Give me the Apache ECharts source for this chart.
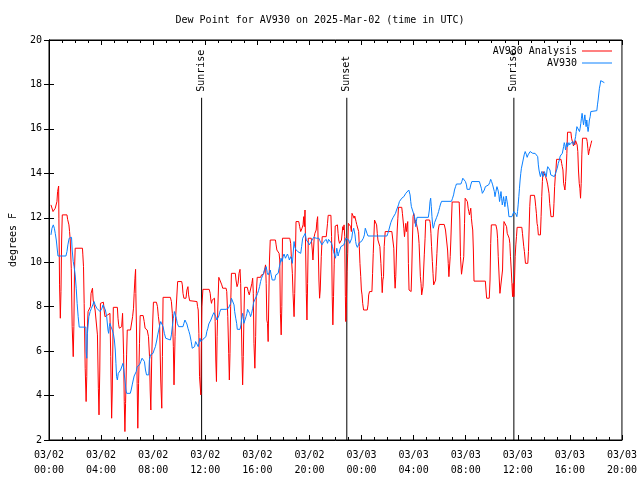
<!DOCTYPE html>
<html><head><meta charset="utf-8">
<script src="https://cdn.jsdelivr.net/npm/echarts@6/dist/echarts.min.js"></script>
<style>html,body{margin:0;padding:0;background:#fff}#c{width:640px;height:480px}</style>
</head><body><div id="c"></div>
<script>
const FONT = 'DejaVu Sans Mono';
const titleText = 'Dew Point for AV930 on 2025-Mar-02 (time in UTC)';
const seriesNames = ['AV930 Analysis', 'AV930'];
const seriesColors = ['#ff0000', '#0a80ff'];
const yAxisName = 'degrees F';
// x values: hours since 03/02 00:00 UTC
const xTickLabels = ['03/02\n00:00','03/02\n04:00','03/02\n08:00','03/02\n12:00','03/02\n16:00','03/02\n20:00',
  '03/03\n00:00','03/03\n04:00','03/03\n08:00','03/03\n12:00','03/03\n16:00','03/03\n20:00'];
const eventHours = [11.72, 22.87, 35.70];
const eventLabels = ['Sunrise', 'Sunset', 'Sunrise'];

const analysisData = [
[0.15,12.58],[0.31,12.28],[0.48,12.43],[0.61,12.73],[0.66,13.18],[0.74,13.43],[0.76,11.98],[0.81,8.98],[0.87,7.48],[0.92,8.68],[0.97,11.0],[1.02,12.13],[1.38,12.13],[1.43,11.93],[1.53,11.68],[1.58,11.38],[1.63,11.0],[1.71,9.73],[1.78,7.1],[1.86,5.75],[1.91,7.1],[1.96,9.65],[2.01,10.63],[2.57,10.63],[2.60,10.33],[2.65,9.8],[2.70,8.15],[2.78,5.23],[2.85,3.73],[2.90,4.85],[2.93,6.8],[3.00,7.78],[3.11,7.85],[3.18,8.0],[3.23,8.6],[3.34,8.83],[3.39,8.3],[3.49,8.23],[3.54,7.85],[3.67,7.93],[3.72,6.73],[3.79,4.33],[3.84,3.13],[3.90,5.15],[3.95,8.15],[4.00,8.2],[4.18,8.2],[4.23,7.85],[4.30,7.55],[4.43,7.48],[4.51,7.63],[4.58,7.55],[4.68,7.7],[4.74,5.75],[4.81,2.98],[4.86,4.25],[4.94,7.97],[5.25,7.97],[5.30,7.48],[5.35,7.18],[5.40,7.03],[5.50,7.03],[5.58,7.1],[5.65,7.7],[5.73,5.83],[5.78,3.73],[5.83,2.38],[5.88,3.65],[5.96,5.83],[6.01,6.95],[6.26,6.95],[6.34,7.03],[6.42,7.55],[6.49,7.93],[6.54,8.6],[6.60,9.28],[6.65,9.68],[6.67,8.6],[6.72,6.95],[6.77,4.55],[6.82,2.53],[6.88,4.55],[6.95,6.35],[7.00,7.6],[7.23,7.6],[7.31,7.33],[7.38,7.03],[7.54,6.95],[7.64,6.65],[7.72,5.75],[7.77,4.25],[7.82,3.35],[7.89,5.75],[7.97,7.4],[8.02,8.2],[8.25,8.2],[8.33,8.0],[8.40,7.55],[8.50,7.1],[8.58,4.7],[8.66,3.43],[8.71,5.75],[8.76,8.42],[9.32,8.42],[9.40,8.23],[9.47,7.7],[9.55,6.2],[9.60,4.48],[9.68,6.65],[9.73,7.55],[9.80,8.3],[9.88,9.13],[10.19,9.13],[10.24,8.98],[10.29,8.6],[10.36,8.38],[10.44,8.45],[10.52,8.38],[10.59,8.75],[10.67,8.9],[10.72,8.53],[10.80,8.27],
[10.85,8.23],[11.36,8.23],[11.41,8.0],[11.46,7.85],[11.51,6.8],[11.56,4.85],[11.61,4.85],[11.66,4.03],[11.69,6.05],[11.74,8.0],[11.82,8.78],[12.30,8.78],[12.38,8.6],[12.43,8.3],[12.48,8.15],[12.53,8.3],[12.61,8.23],[12.66,8.3],[12.71,8.38],[12.76,7.33],[12.81,5.6],[12.86,4.63],[12.91,6.65],[12.96,7.85],[13.04,9.32],[13.19,9.32],[13.27,8.98],[13.34,8.83],[13.60,8.83],[13.65,8.68],[13.73,7.55],[13.80,5.9],[13.85,4.7],[13.90,5.9],[13.95,8.0],[14.01,9.5],[14.31,9.5],[14.36,9.2],[14.44,8.9],[14.52,9.05],[14.59,9.5],[14.67,9.68],[14.72,9.05],[14.77,7.4],[14.82,5.75],[14.87,4.48],[14.92,5.75],[14.97,7.55],[15.02,8.87],[15.23,8.87],[15.30,8.68],[15.38,8.53],[15.51,8.53],[15.58,9.05],[15.64,9.28],[15.69,8.6],[15.74,6.35],[15.81,5.23],[15.87,6.65],[15.92,8.6],[15.99,9.32],[16.25,9.32],[16.32,9.43],[16.40,9.35],[16.48,9.47],[16.55,9.65],[16.63,9.88],[16.68,9.05],[16.73,7.4],[16.78,7.25],[16.83,6.43],[16.88,8.3],[16.93,10.1],[16.99,11.0],[17.39,11.0],[17.44,10.78],[17.50,10.55],[17.60,10.48],[17.67,10.4],[17.72,10.1],[17.77,7.7],[17.83,6.73],[17.88,8.0],[17.93,11.08],[18.49,11.08],[18.56,10.85],[18.61,10.25],[18.69,9.5],[18.74,8.6],[18.82,7.55],[18.87,8.6],[18.92,10.1],[18.97,11.83],[19.18,11.83],[19.25,11.6],[19.33,11.38],[19.43,11.53],[19.51,11.68],[19.56,12.05],[19.61,11.6],[19.66,12.35],[19.71,10.55],[19.76,8.6],[19.81,7.4],[19.86,9.05],[19.91,11.08],[20.14,11.08],[20.22,10.55],[20.27,10.1],[20.37,11.15],[20.42,11.3],[20.52,11.45],[20.57,11.83],[20.63,12.05],[20.68,10.55],[20.73,9.2],[20.78,8.38],[20.83,8.75],[20.91,10.25],[20.98,11.15],[21.29,11.15],[21.34,11.45],[21.39,11.75],[21.44,12.11],[21.65,12.11],[21.70,11.15],[21.75,8.45],[21.80,7.18],[21.85,8.45],[21.90,9.88],[21.98,11.63],
[22.15,11.68],[22.20,11.3],[22.25,11.0],[22.31,10.85],[22.41,10.85],[22.46,11.0],[22.51,11.0],[22.56,11.6],[22.61,11.45],[22.66,11.68],[22.71,11.15],[22.76,8.45],[22.79,7.33],[22.84,8.15],[22.89,9.58],[22.94,10.4],[22.99,11.75],[23.12,11.75],[23.17,11.6],[23.22,11.38],[23.27,12.2],[23.38,12.2],[23.43,11.98],[23.48,12.08],[23.53,12.05],[23.58,11.83],[23.63,11.7],[23.73,11.75],[23.78,11.38],[23.83,10.7],[23.88,9.95],[23.94,9.35],[23.99,8.75],[24.04,8.53],[24.09,8.15],[24.16,7.85],[24.44,7.85],[24.50,8.08],[24.55,8.53],[24.62,8.68],[24.80,8.68],[24.85,9.5],[24.90,10.4],[24.95,11.15],[25.00,11.9],[25.11,11.9],[25.16,11.68],[25.21,11.3],[25.26,11.0],[25.34,11.0],[25.41,10.7],[25.49,9.95],[25.54,9.35],[25.59,8.63],[25.64,9.2],[25.69,9.35],[25.74,10.7],[25.82,11.38],[26.33,11.38],[26.41,11.3],[26.48,10.63],[26.53,9.43],[26.58,8.83],[26.63,9.35],[26.69,10.55],[26.74,11.45],[26.79,11.98],[26.84,12.47],[27.09,12.47],[27.14,12.2],[27.19,11.9],[27.25,11.53],[27.30,11.15],[27.35,11.45],[27.40,11.75],[27.45,11.38],[27.50,11.3],[27.55,11.83],[27.60,9.95],[27.65,8.75],[27.70,8.68],[27.81,8.68],[27.86,9.65],[27.91,11.0],[27.96,12.05],[28.01,12.2],[28.06,12.05],[28.11,11.75],[28.16,11.88],[28.21,11.75],[28.26,11.83],[28.32,11.45],[28.37,11.23],[28.42,10.85],[28.47,10.1],[28.52,9.35],[28.57,9.05],[28.62,8.53],[28.67,8.53],[28.72,8.9],[28.77,9.65],[28.82,10.33],[28.88,11.08],[28.93,11.9],[29.23,11.9],[29.28,11.75],[29.33,11.3],[29.38,10.7],[29.44,10.03],[29.49,9.5],[29.54,8.98],[29.64,8.93],[29.69,9.2],[29.74,9.8],[29.79,10.4],[29.84,11.0],[29.89,11.45],[29.97,11.7],[30.35,11.7],[30.40,11.68],[30.45,11.45],[30.53,11.0],[30.61,10.55],[30.66,9.95],[30.71,9.35],[30.76,9.35],[30.81,10.25],[30.86,11.0],[30.91,11.9],[30.96,12.71],[31.50,12.71],[31.55,11.9],[31.60,10.25],[31.68,9.46],[31.80,9.46],[31.85,10.25],[31.91,11.75],[31.96,12.88],[32.08,12.88],[32.13,12.73],[32.19,12.43],[32.24,12.28],[32.29,12.13],[32.34,12.28],[32.39,12.43],[32.44,11.98],[32.49,11.68],[32.54,11.45],[32.59,10.55],[32.64,9.15],
[33.51,9.15],[33.56,8.75],[33.61,8.38],[33.81,8.38],[33.87,9.2],[33.92,10.85],[33.97,11.68],[34.32,11.68],[34.40,11.45],[34.45,11.08],[34.50,10.25],[34.58,9.2],[34.63,8.6],[34.78,8.6],[34.83,9.65],[34.88,11.0],[34.94,11.83],[35.09,11.83],[35.14,11.6],[35.19,11.3],[35.29,11.26],[35.34,11.08],[35.39,10.85],[35.44,10.25],[35.50,9.65],[35.55,9.05],[35.60,8.45],[35.65,9.05],[35.70,8.45],[35.75,9.2],[35.80,10.25],[35.85,10.78],[35.90,11.15],[35.95,11.57],[36.31,11.57],[36.36,11.3],[36.41,11.0],[36.46,10.7],[36.51,10.48],[36.59,9.95],[36.77,9.95],[36.82,10.48],[36.87,11.45],[36.92,12.5],[36.97,13.01],[37.28,13.01],[37.33,12.8],[37.38,12.5],[37.43,12.2],[37.48,11.75],[37.53,11.6],[37.58,11.23],[37.74,11.23],[37.79,12.05],[37.84,12.95],[37.89,13.63],[37.94,14.08],[38.09,14.08],[38.14,13.85],[38.22,13.7],[38.30,13.48],[38.35,13.4],[38.40,13.1],[38.45,12.65],[38.50,12.35],[38.55,12.05],[38.73,12.05],[38.78,12.65],[38.83,13.4],[38.88,13.85],[38.93,14.15],[38.98,14.63],[39.32,14.63],[39.37,14.45],[39.42,14.3],[39.47,14.15],[39.52,13.55],[39.57,13.48],[39.62,13.25],[39.67,13.63],[39.72,14.15],[39.77,14.9],[39.82,15.85],[40.08,15.85],[40.13,15.58],[40.18,15.65],[40.23,15.35],[40.28,15.23],[40.33,15.43],[40.38,15.28],[40.44,15.47],[40.51,15.47],[40.56,15.28],[40.61,14.98],[40.66,14.15],[40.72,13.55],[40.77,13.33],[40.82,12.88],[40.87,13.55],[40.92,14.83],[40.97,15.58],[41.28,15.58],[41.33,15.43],[41.38,15.13],[41.43,14.83],[41.48,14.98],[41.53,15.13],[41.58,15.23],[41.63,15.35],[41.68,15.47]
];

const stationData = [
[0.15,11.23],[0.23,11.53],[0.33,11.68],[0.41,11.53],[0.48,11.3],[0.56,11.0],[0.64,10.55],[0.69,10.28],[1.30,10.28],[1.38,10.48],[1.45,10.78],[1.55,11.08],[1.63,11.12],[1.73,11.12],[1.78,10.55],[1.86,10.03],[1.93,9.8],[2.01,9.43],[2.09,8.83],[2.16,8.15],[2.24,7.55],[2.32,7.08],[2.83,7.08],[2.85,5.98],[2.90,5.68],[2.95,6.8],[3.06,7.55],[3.16,7.78],[3.26,7.93],[3.36,8.08],[3.46,8.23],[3.54,8.08],[3.67,7.93],[3.79,7.85],[3.92,7.78],[4.00,7.7],[4.07,7.93],[4.15,8.08],[4.23,8.0],[4.33,7.85],[4.43,7.55],[4.53,6.95],[4.58,6.8],[4.63,7.1],[4.68,7.25],[4.76,7.1],[4.86,6.95],[4.94,6.8],[5.02,6.5],[5.09,6.05],[5.14,5.45],[5.19,4.85],[5.25,4.7],[5.32,5.0],[5.40,5.08],[5.50,5.15],[5.60,5.23],[5.68,5.45],[5.75,5.15],[5.83,4.7],[5.91,4.25],[5.96,4.1],[6.24,4.1],[6.31,4.25],[6.39,4.48],[6.47,4.7],[6.54,4.88],[6.62,4.93],[6.70,5.08],[6.77,5.3],[6.85,5.33],[6.95,5.38],[7.05,5.53],[7.15,5.68],[7.26,5.72],[7.33,5.53],[7.41,5.15],[7.49,4.93],[7.66,4.93],[7.71,5.6],[7.79,5.83],[7.89,5.9],[7.99,5.9],[8.07,6.05],[8.17,6.2],[8.28,6.5],[8.35,6.73],[8.43,6.95],[8.51,7.18],[8.58,7.33],[8.68,7.25],[8.76,7.1],[8.86,6.8],[8.96,6.58],[9.04,6.5],[9.32,6.5],[9.40,6.73],[9.47,7.1],[9.55,7.48],[9.63,7.78],[9.70,7.7],[9.78,7.48],[9.85,7.25],[9.96,7.1],[10.29,7.1],[10.36,7.25],[10.44,7.4],[10.52,7.4],[10.59,7.22],[10.67,7.03],[10.75,6.88],[10.82,6.73],
[10.92,6.43],[11.00,6.13],[11.10,6.08],[11.18,6.2],[11.26,6.43],[11.33,6.5],[11.38,6.35],[11.46,6.2],[11.51,6.35],[11.59,6.58],[11.66,6.43],[11.74,6.5],[11.82,6.53],[11.97,6.58],[12.05,6.65],[12.12,6.88],[12.20,7.03],[12.27,7.22],[12.35,7.25],[12.43,7.4],[12.50,7.48],[12.58,7.63],[12.66,7.73],[12.73,7.7],[12.81,7.55],[12.89,7.4],[12.96,7.4],[13.04,7.58],[13.11,7.75],[13.19,7.88],[13.60,7.88],[13.67,7.93],[13.78,7.93],[13.88,8.0],[13.95,8.15],[14.01,8.38],[14.08,8.45],[14.13,8.38],[14.21,8.08],[14.26,7.78],[14.34,7.48],[14.41,7.25],[14.46,6.98],[14.67,6.98],[14.74,7.18],[14.82,7.55],[14.87,7.7],[14.92,7.48],[14.97,7.25],[15.05,7.4],[15.13,7.55],[15.20,7.7],[15.25,7.88],[15.33,7.85],[15.41,7.7],[15.48,7.55],[15.56,7.7],[15.64,7.93],[15.71,8.18],[15.79,8.3],[15.87,8.38],[15.94,8.48],[16.02,8.6],[16.09,8.72],[16.17,8.9],[16.25,9.13],[16.32,9.28],[16.40,9.35],[16.48,9.5],[16.55,9.65],[16.60,9.73],[16.68,9.8],[16.76,9.53],[16.83,9.43],[16.91,9.53],[16.99,9.65],[17.06,9.43],[17.14,9.2],[17.34,9.2],[17.42,9.43],[17.50,9.5],[17.60,9.5],[17.67,9.73],[17.75,9.95],[17.82,10.18],[17.90,10.03],[17.98,10.25],[18.05,10.37],[18.16,10.18],[18.23,10.22],[18.31,10.37],[18.39,10.25],[18.46,10.1],[18.56,10.25],[18.64,10.1],[18.69,9.95],[18.77,10.55],[18.82,10.93],[18.87,10.7],[18.95,10.58],[19.02,10.55],[19.10,10.48],[19.18,10.55],[19.25,10.55],[19.33,10.4],[19.40,10.7],[19.48,11.08],[19.56,11.12],[19.61,11.0],[19.68,11.3],[19.76,11.0],[19.84,11.08],[19.91,10.88],[19.99,10.78],[20.07,10.78],[20.14,10.93],[20.22,11.0],[20.32,11.12],[20.42,11.12],[20.52,11.08],[20.63,11.12],[20.73,11.08],[20.80,10.97],[20.88,10.93],[20.96,10.78],[21.03,10.78],[21.11,10.93],[21.19,11.0],[21.29,11.03],[21.39,10.85],[21.47,11.03],[21.54,11.03],[21.62,10.97],[21.70,10.85],[21.77,10.7],[21.85,10.48],[21.93,10.33],
[22.00,10.18],[22.05,10.4],[22.10,10.63],[22.15,10.48],[22.20,10.28],[22.25,10.4],[22.33,10.55],[22.41,10.7],[22.48,10.78],[22.56,10.7],[22.64,10.78],[22.71,10.85],[22.79,11.08],[22.87,11.0],[22.94,11.15],[23.02,11.0],[23.09,10.85],[23.17,10.78],[23.25,11.08],[23.32,11.38],[23.40,11.53],[23.45,11.6],[23.50,11.23],[23.55,10.93],[23.60,10.78],[23.68,10.67],[23.76,10.78],[23.83,10.88],[23.91,10.93],[23.99,10.93],[24.06,11.0],[24.14,11.08],[24.22,11.23],[24.29,11.53],[24.34,11.6],[24.42,11.3],[24.50,11.18],[25.95,11.18],[26.02,11.3],[26.10,11.45],[26.18,11.63],[26.25,11.78],[26.33,11.9],[26.43,12.02],[26.53,12.02],[26.61,12.2],[26.69,12.35],[26.76,12.43],[26.84,12.58],[26.91,12.73],[26.99,12.8],[27.09,12.88],[27.17,12.88],[27.25,12.95],[27.32,13.03],[27.40,13.1],[27.47,13.1],[27.55,13.18],[27.63,13.25],[27.68,13.28],[27.73,13.03],[27.78,12.73],[27.83,12.5],[27.91,12.35],[27.98,12.28],[28.06,12.08],[28.11,11.9],[28.16,11.6],[28.21,11.83],[28.26,12.02],[29.13,12.02],[29.21,12.35],[29.26,12.73],[29.31,12.88],[29.36,12.5],[29.41,12.05],[29.46,11.68],[29.51,11.53],[29.56,11.63],[29.61,11.78],[29.69,11.9],[29.77,12.02],[29.84,12.13],[29.92,12.28],[30.00,12.47],[30.07,12.62],[30.15,12.74],[30.91,12.74],[30.99,12.88],[31.07,13.03],[31.14,13.25],[31.22,13.4],[31.29,13.52],[31.63,13.52],[31.70,13.63],[31.78,13.78],[31.86,13.85],[31.93,13.85],[31.98,13.63],[32.06,13.48],[32.11,13.28],[32.31,13.28],[32.39,13.48],[32.47,13.63],[32.54,13.63],
[33.05,13.63],[33.13,13.55],[33.20,13.33],[33.28,13.1],[33.36,13.07],[33.43,13.25],[33.51,13.4],[33.64,13.48],[33.76,13.48],[33.84,13.58],[33.92,13.73],[33.99,13.63],[34.07,13.48],[34.15,13.4],[34.20,13.18],[34.25,12.95],[34.32,13.18],[34.40,13.4],[34.48,13.25],[34.55,13.03],[34.60,12.73],[34.66,12.95],[34.71,13.18],[34.76,12.88],[34.81,12.58],[34.86,12.73],[34.91,12.95],[34.96,12.73],[35.01,12.5],[35.06,12.73],[35.11,12.98],[35.16,12.8],[35.22,12.58],[35.27,12.35],[35.32,12.05],[35.55,12.05],[35.62,12.13],[35.70,12.28],[35.78,12.35],[35.85,12.17],[35.93,12.05],[35.98,12.28],[36.03,12.58],[36.08,12.95],[36.13,13.33],[36.18,13.7],[36.23,14.0],[36.28,14.23],[36.34,14.3],[36.41,14.6],[36.49,14.83],[36.57,14.98],[36.62,15.05],[36.67,14.83],[36.72,14.72],[36.79,14.83],[36.87,14.9],[36.95,14.98],[37.07,14.98],[37.15,14.9],[37.23,14.98],[37.33,14.9],[37.41,14.98],[37.48,14.98],[37.53,14.75],[37.58,14.38],[37.63,14.15],[37.69,13.97],[37.74,13.85],[37.79,13.97],[37.84,14.08],[37.89,14.0],[37.94,13.85],[37.99,13.93],[38.04,14.08],[38.09,14.15],[38.14,14.0],[38.19,13.85],[38.25,14.15],[38.30,14.3],[38.35,14.38],[38.42,14.38],[38.47,14.15],[38.53,13.93],[38.60,13.85],[38.81,13.85],[38.88,13.97],[38.96,14.0],[39.03,14.23],[39.11,14.45],[39.19,14.6],[39.26,14.78],[39.34,14.83],[39.42,14.9],[39.47,15.05],[39.52,15.2],[39.57,15.38],[39.62,15.28],[39.67,15.05],[39.72,15.23],[39.77,15.38],[39.82,15.2],[39.88,15.28],[39.93,15.38],[39.98,15.28],[40.05,15.2],[40.13,15.28],[40.21,15.43],[40.28,15.28],[40.36,15.43],[40.44,15.65],[40.49,15.88],[40.54,16.1],[40.59,16.18],[40.64,16.03],[40.69,16.18],[40.74,15.88],[40.79,16.03],[40.84,16.25],[40.89,16.48],[40.94,16.7],[41.00,16.4],[41.05,16.18],[41.10,16.4],[41.15,16.63],[41.20,16.33],[41.25,16.1],[41.30,16.4],[41.35,16.1],[41.40,15.88],[41.45,16.1],[41.50,16.4],[41.56,16.55],[41.61,16.78],[41.66,16.82],[42.07,16.82],[42.12,17.08],[42.17,17.3],[42.22,17.57],[42.27,17.83],[42.32,17.98],[42.37,18.17],[42.45,18.17],[42.50,18.08],[42.65,18.08]
];

const X_MIN = 0, X_MAX = 44, X_STEP = 4;
const Y_MIN = 2, Y_MAX = 20, Y_STEP = 2;
const EVENT_TOP = 17.4;

const chart = echarts.init(document.getElementById('c'), null, {renderer: 'canvas'});
const txt = {fontFamily: FONT, fontSize: 10, color: '#000'};
const commonX = {
  type: 'value', min: X_MIN, max: X_MAX, interval: X_STEP,
  axisLine: {show: true, lineStyle: {color: '#000', width: 1}},
  axisTick: {show: true, inside: true, length: 5, lineStyle: {color: '#000'}},
  minorTick: {show: true, splitNumber: 4, length: 3, lineStyle: {color: '#000'}},
  splitLine: {show: false}
};
const commonY = {
  type: 'value', min: Y_MIN, max: Y_MAX, interval: Y_STEP,
  axisLine: {show: true, lineStyle: {color: '#000', width: 1}},
  axisTick: {show: true, inside: true, length: 5, lineStyle: {color: '#000'}},
  splitLine: {show: false}
};
chart.setOption({
  animation: false,
  backgroundColor: '#fff',
  title: {text: titleText, left: 'center', top: 10,
    textStyle: Object.assign({}, txt, {fontWeight: 'normal'})},
  legend: {
    data: seriesNames.map(n => ({name: n, icon: 'rect'})),
    orient: 'vertical', right: 28, top: 46, align: 'right',
    itemWidth: 30, itemHeight: 1, itemGap: 2, padding: 0,
    textStyle: txt
  },
  grid: {left: 46, right: 18, top: 40, bottom: 40, show: true, borderColor: '#000', borderWidth: 1},
  xAxis: [
    Object.assign({}, commonX, {position: 'bottom',
      axisLabel: Object.assign({}, txt, {margin: 8, lineHeight: 15,
        formatter: v => xTickLabels[Math.round((v - X_MIN) / X_STEP)] || ''})}),
    Object.assign({}, commonX, {position: 'top', axisLabel: {show: false}})
  ],
  yAxis: [
    Object.assign({}, commonY, {position: 'left', name: yAxisName, nameLocation: 'middle', nameGap: 31,
      nameTextStyle: txt, axisLabel: Object.assign({}, txt, {margin: 7})}),
    Object.assign({}, commonY, {position: 'right', axisLabel: {show: false}})
  ],
  series: [
    {name: seriesNames[0], type: 'line', data: analysisData, symbol: 'none',
      lineStyle: {color: seriesColors[0], width: 1}, itemStyle: {color: seriesColors[0]}},
    {name: seriesNames[1], type: 'line', data: stationData, symbol: 'none',
      lineStyle: {color: seriesColors[1], width: 1}, itemStyle: {color: seriesColors[1]}},
    {type: 'custom', data: eventHours.map(h => [h, EVENT_TOP]),
      renderItem: (params, api) => {
        const top = api.coord([api.value(0), api.value(1)]);
        const bot = api.coord([api.value(0), Y_MIN]);
        return {type: 'group', children: [
          {type: 'line', shape: {x1: top[0], y1: top[1], x2: bot[0], y2: bot[1]},
            style: {stroke: '#000', lineWidth: 1}},
          {type: 'text', x: top[0], y: top[1] - 6, rotation: Math.PI / 2,
            style: {text: eventLabels[params.dataIndex], font: '10px ' + FONT, fill: '#000',
              textAlign: 'left', textVerticalAlign: 'middle'}}
        ]};
      }, z: 3}
  ]
});
</script></body></html>
